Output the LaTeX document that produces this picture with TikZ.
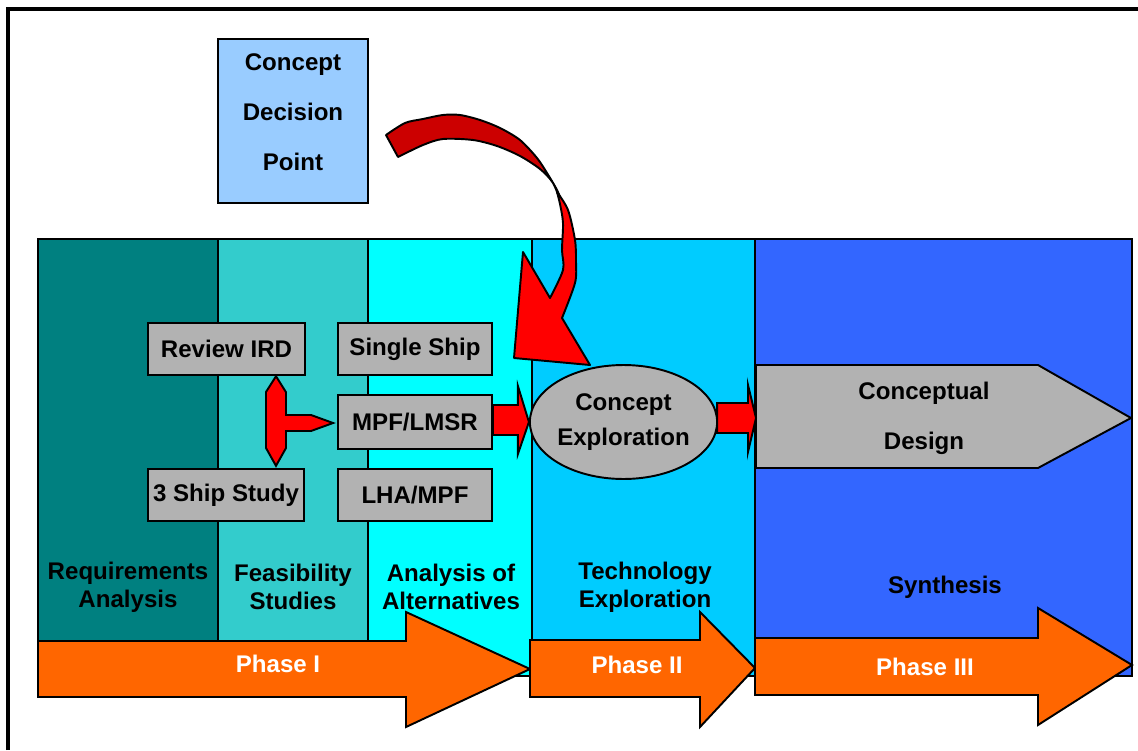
\documentclass[tikz,border=0pt]{standalone}
\usepackage{fontspec}
\setmainfont{Liberation Sans}
\usetikzlibrary{shapes.geometric,calc}

\definecolor{reqteal}{HTML}{008080}
\definecolor{feasteal}{HTML}{33CCCC}
\definecolor{altcyan}{HTML}{00FFFF}
\definecolor{techblue}{HTML}{00CCFF}
\definecolor{synblue}{HTML}{3366FF}
\definecolor{cdpblue}{HTML}{99CCFF}
\definecolor{boxgray}{HTML}{B2B2B2}
\definecolor{phaseorange}{HTML}{FF6600}
\definecolor{arrowred}{HTML}{FF0000}
\definecolor{darkred}{HTML}{CC0000}

\tikzset{
  outline/.style={draw=black, line width=1.1pt, line join=miter},
  band/.style={outline},
  bandlabel/.style={align=center, font=\bfseries\fontsize{13.7}{16}\selectfont, inner sep=0pt},
  graybox/.style={outline, fill=boxgray, minimum height=1.05cm, inner sep=0pt,
                  font=\bfseries\fontsize{13.7}{16}\selectfont},
  redarrow/.style={outline, fill=arrowred, line join=miter},
  phasearrow/.style={outline, fill=phaseorange},
  phaselabel/.style={text=white, font=\bfseries\fontsize{13.7}{16}\selectfont, inner sep=0pt},
}

\begin{document}
\begin{tikzpicture}[x=0.02cm, y=-0.02cm]
\useasboundingbox (0,0) rectangle (1138,750);

% frame (left and top edges)
\draw[line width=2.3pt] (8,750) -- (8,9) -- (1138,9);

% process bands
\filldraw[band, fill=reqteal]  (38,239)  rectangle (218,641);
\filldraw[band, fill=feasteal] (218,239) rectangle (368,641);
\filldraw[band, fill=altcyan]  (368,239) rectangle (532,676);
\filldraw[band, fill=techblue] (532,239) rectangle (755,676);
\filldraw[band, fill=synblue]  (755,239) rectangle (1132,676);

\node[bandlabel] (lreq)  at (128,587) {Requirements\\Analysis};
\node[bandlabel] (lfeas) at (293,587) {Feasibility\\Studies};
\node[bandlabel] (lalt)  at (451,587) {Analysis of\\Alternatives};
\node[bandlabel] (ltech) at (645,587) {Technology\\Exploration};
\node[bandlabel] (lsyn)  at (945,587) {Synthesis};

% decision point box
\node[outline, fill=cdpblue, minimum width=3cm, minimum height=3.28cm, inner sep=0pt]
  (cdp) at (293,121) {};
\node[bandlabel, font=\bfseries\fontsize{13.7}{28.45}\selectfont] (cdptext) at (293,112)
  {Concept\\Decision\\Point};

% study boxes
\node[graybox, minimum width=3.14cm] (rev) at (226.5,349) {Review IRD};
\node[graybox, minimum width=3.08cm] (ss)  at (415,349)   {Single Ship};
\node[graybox, minimum width=3.08cm, minimum height=1.08cm] (mpf) at (415,422) {MPF/LMSR};
\node[graybox, minimum width=3.12cm] (tss) at (226,495)   {3 Ship Study};
\node[graybox, minimum width=3.08cm] (lha) at (415,495)   {LHA/MPF};

% concept exploration
\node[outline, fill=boxgray, ellipse, minimum width=3.74cm, minimum height=2.28cm,
      inner sep=0pt, align=center, font=\bfseries\fontsize{13.7}{19.9}\selectfont]
  (ce) at (623.5,422) {Concept\\Exploration};

% conceptual design pentagon
\coordinate (cdin) at (756,418);
\filldraw[outline, fill=boxgray] (756,365) -- (1038,365) -- (1131,418) -- (1038,468)
  -- (756,468) -- cycle;
\node[bandlabel, font=\bfseries\fontsize{13.7}{28.45}\selectfont] (cd) at (924,418)
  {Conceptual\\Design};

% T-shaped arrow joining the studies
\coordinate (tx) at (276,0);
\coordinate (ttop) at (tx |- rev.south);
\coordinate (tbot) at ($(tx |- tss.north)+(0,-2)$);
\coordinate (tright) at ($(mpf.west)+(-4,1)$);
\filldraw[redarrow] (ttop) -- ++(10,16) -- (286,415) -- (311,415) -- (tright)
  -- (311,431) -- (286,431) -- (286,448) -- (tbot) -- (266,448) -- (266,392) -- cycle;

% MPF/LMSR -> Concept Exploration
\filldraw[redarrow] ($(mpf.east)+(0,-17)$) -- ($(ce.west)+(-11,-17)$)
  -- ($(ce.west)+(-11,-36)$) -- (ce.west) -- ($(ce.west)+(-11,32)$)
  -- ($(ce.west)+(-11,13)$) -- ($(mpf.east)+(0,13)$) -- cycle;

% Concept Exploration -> Conceptual Design
\filldraw[redarrow] ($(ce.east)+(-1,-19)$) -- ($(cdin)+(-8,-15)$)
  -- ($(cdin)+(-8,-33)$) -- (cdin) -- ($(cdin)+(-8,34)$)
  -- ($(cdin)+(-8,15)$) -- ($(ce.east)+(-1,11)$) -- cycle;

% curved arrow from the decision point
\filldraw[outline, fill=darkred, line join=round]
  plot[smooth] coordinates {(386,135) (405,123) (423,119) (443,115) (460,115)
    (480,120) (500,128) (520,140) (537,158) (547,173) (557,190) (564,207)}
  -- plot[smooth] coordinates {(561,203) (553,183) (540,169) (520,156) (497,146)
    (473,140) (443,139) (423,145) (398,157)}
  -- cycle;
\filldraw[outline, fill=arrowred, line join=round]
  plot[smooth] coordinates {(557,192) (568,210) (575,240) (576,262) (575,283) (562,318)}
  -- (590,365) -- (514,358) -- (523,252)
  -- plot[smooth] coordinates {(550,298) (563,270) (562,250) (563,223) (560,204) (557,192)}
  -- cycle;

% phase arrows
\filldraw[phasearrow] (38,641) -- (406,641) -- (406,612) -- (530,669) -- (406,727)
  -- (406,697) -- (38,697) -- cycle;
\node[phaselabel] (p1) at (278,664) {Phase I};
\filldraw[phasearrow] (530,640) -- (700,640) -- (700,612) -- (755,668) -- (700,727)
  -- (700,697) -- (530,697) -- cycle;
\node[phaselabel] (p2) at (637,665) {Phase II};
\filldraw[phasearrow] (755,638) -- (1038,638) -- (1038,608) -- (1132,665) -- (1038,725)
  -- (1038,695) -- (755,695) -- cycle;
\node[phaselabel] (p3) at (925,667) {Phase III};
\end{tikzpicture}
\end{document}
